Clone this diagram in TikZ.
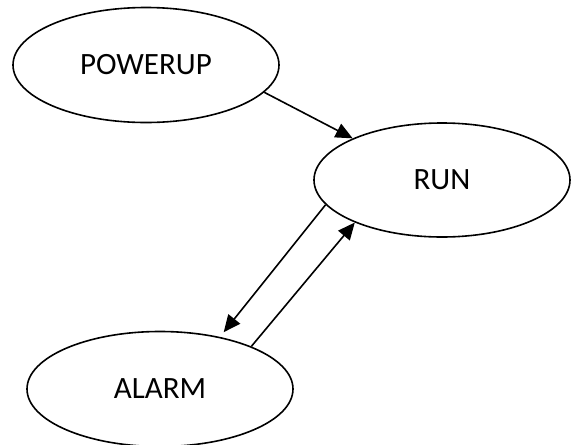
\documentclass[tikz,border=0pt]{standalone}
\usepackage{fontspec}
\setmainfont{Carlito}
\usetikzlibrary{shapes.geometric,arrows.meta}
\begin{document}
\begin{tikzpicture}[x=1pt,y=-1pt,
  state/.style={draw, ellipse, line width=1.6pt, minimum width=266pt, minimum height=115pt, inner sep=0pt, font=\fontsize{31}{36}\selectfont},
  conn/.style={line width=1.6pt, -{Triangle[length=17pt,width=15pt]}}]
\useasboundingbox (0,0) rectangle (571,445);
\node[state] (pw) at (146,65) {POWERUP};
\node[state, minimum width=256pt, minimum height=114pt] (run) at (442,180) {RUN};
\node[state] (al) at (160,389) {ALARM};
\draw[conn] (pw.-13.5) -- (run.155);
\draw[conn, shorten >=6pt] (run.192) -- (al.41);
\draw[conn] (al.25) -- (run.206);
\end{tikzpicture}
\end{document}
